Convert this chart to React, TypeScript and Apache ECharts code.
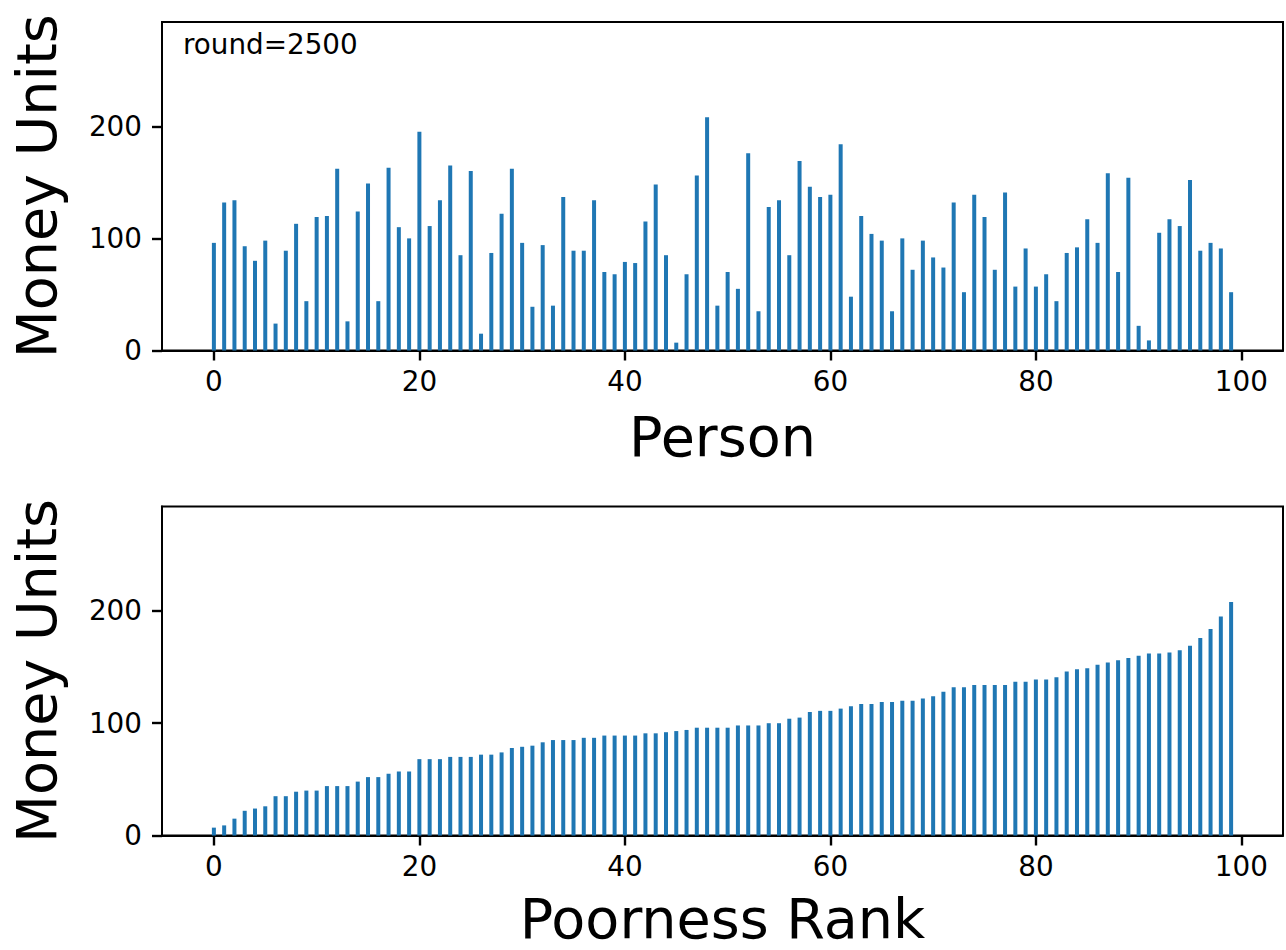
import React, { useEffect, useRef } from "react";
import * as echarts from "echarts";

// Money held by each person after round 2500 (index = person)
const wealthByPerson: number[] = [
  96, 132, 134, 93, 80, 98, 24, 89, 113, 44,
  119, 120, 162, 26, 124, 149, 44, 163, 110, 100,
  195, 111, 134, 165, 85, 160, 15, 87, 122, 162,
  96, 39, 94, 40, 137, 89, 89, 134, 70, 68,
  79, 78, 115, 148, 85, 7, 68, 156, 208, 40,
  70, 55, 176, 35, 128, 134, 85, 169, 146, 137,
  139, 184, 48, 120, 104, 98, 35, 100, 72, 98,
  83, 74, 132, 52, 139, 119, 72, 141, 57, 91,
  57, 68, 44, 87, 92, 117, 96, 158, 70, 154,
  22, 9, 105, 117, 111, 152, 89, 96, 91, 52,
];

// Same money, ordered from poorest to richest
const wealthByRank: number[] = [...wealthByPerson].sort((a, b) => a - b);

const xTickValues: number[] = [0, 20, 40, 60, 80, 100];
const yTickValues: number[] = [0, 100, 200];
const roundLabel = "round=2500";
const yTitle = "Money Units";
const xTitles: string[] = ["Person", "Poorness Rank"];

const FONT = "DejaVu Sans";
const BLUE = "#1f77b4";

export default function App() {
  const ref = useRef<HTMLDivElement>(null);

  useEffect(() => {
    if (!ref.current) return;
    const chart = echarts.init(ref.current, undefined, { renderer: "svg" });

    const grids = [
      { left: 162, top: 22, width: 1121, height: 328.5 },
      { left: 162, top: 506.5, width: 1121, height: 329 },
    ];

    const nameStyle = { fontSize: 55.6, fontFamily: FONT, color: "#000" };

    const makeX = (gi: number) => ({
      type: "value",
      gridIndex: gi,
      min: -5.05,
      max: 104.05,
      name: xTitles[gi],
      nameLocation: "middle",
      nameGap: gi === 0 ? 58 : 55,
      nameTextStyle: nameStyle,
      axisLine: { show: true, onZero: false, lineStyle: { color: "#000", width: 2 } },
      splitLine: { show: false },
      axisTick: {
        show: true,
        length: 10,
        lineStyle: { color: "#000", width: 2.4 },
        customValues: xTickValues,
      },
      axisLabel: {
        customValues: xTickValues,
        fontSize: 27.8,
        color: "#000",
        fontFamily: FONT,
        margin: 17,
      },
    });

    const makeY = (gi: number) => ({
      type: "value",
      gridIndex: gi,
      min: 0,
      max: 293,
      name: yTitle,
      nameLocation: "middle",
      nameRotate: 90,
      nameGap: 98,
      nameTextStyle: nameStyle,
      axisLine: { show: true, onZero: false, lineStyle: { color: "#000", width: 2 } },
      splitLine: { show: false },
      axisTick: {
        show: true,
        length: 10,
        lineStyle: { color: "#000", width: 2.4 },
        customValues: yTickValues,
      },
      axisLabel: {
        customValues: yTickValues,
        fontSize: 27.8,
        color: "#000",
        fontFamily: FONT,
        margin: 20,
      },
    });

    chart.setOption({
      animation: false,
      title: {
        text: roundLabel,
        left: 183,
        top: 30,
        padding: 0,
        textStyle: { fontSize: 27.8, fontFamily: FONT, fontWeight: "normal", color: "#000" },
      },
      grid: grids.map((g) => ({ ...g, show: true, borderColor: "#000", borderWidth: 2 })),
      xAxis: [makeX(0), makeX(1)],
      yAxis: [makeY(0), makeY(1)],
      series: [
        {
          type: "bar",
          xAxisIndex: 0,
          yAxisIndex: 0,
          barWidth: 4,
          itemStyle: { color: BLUE },
          data: wealthByPerson.map((v, i) => [i, v]),
        },
        {
          type: "bar",
          xAxisIndex: 1,
          yAxisIndex: 1,
          barWidth: 4,
          itemStyle: { color: BLUE },
          data: wealthByRank.map((v, i) => [i, v]),
        },
      ],
    });

    return () => chart.dispose();
  }, []);

  return (
    <div
      ref={ref}
      style={{ position: "absolute", left: 0, top: 0, width: 1286, height: 950 }}
    />
  );
}
